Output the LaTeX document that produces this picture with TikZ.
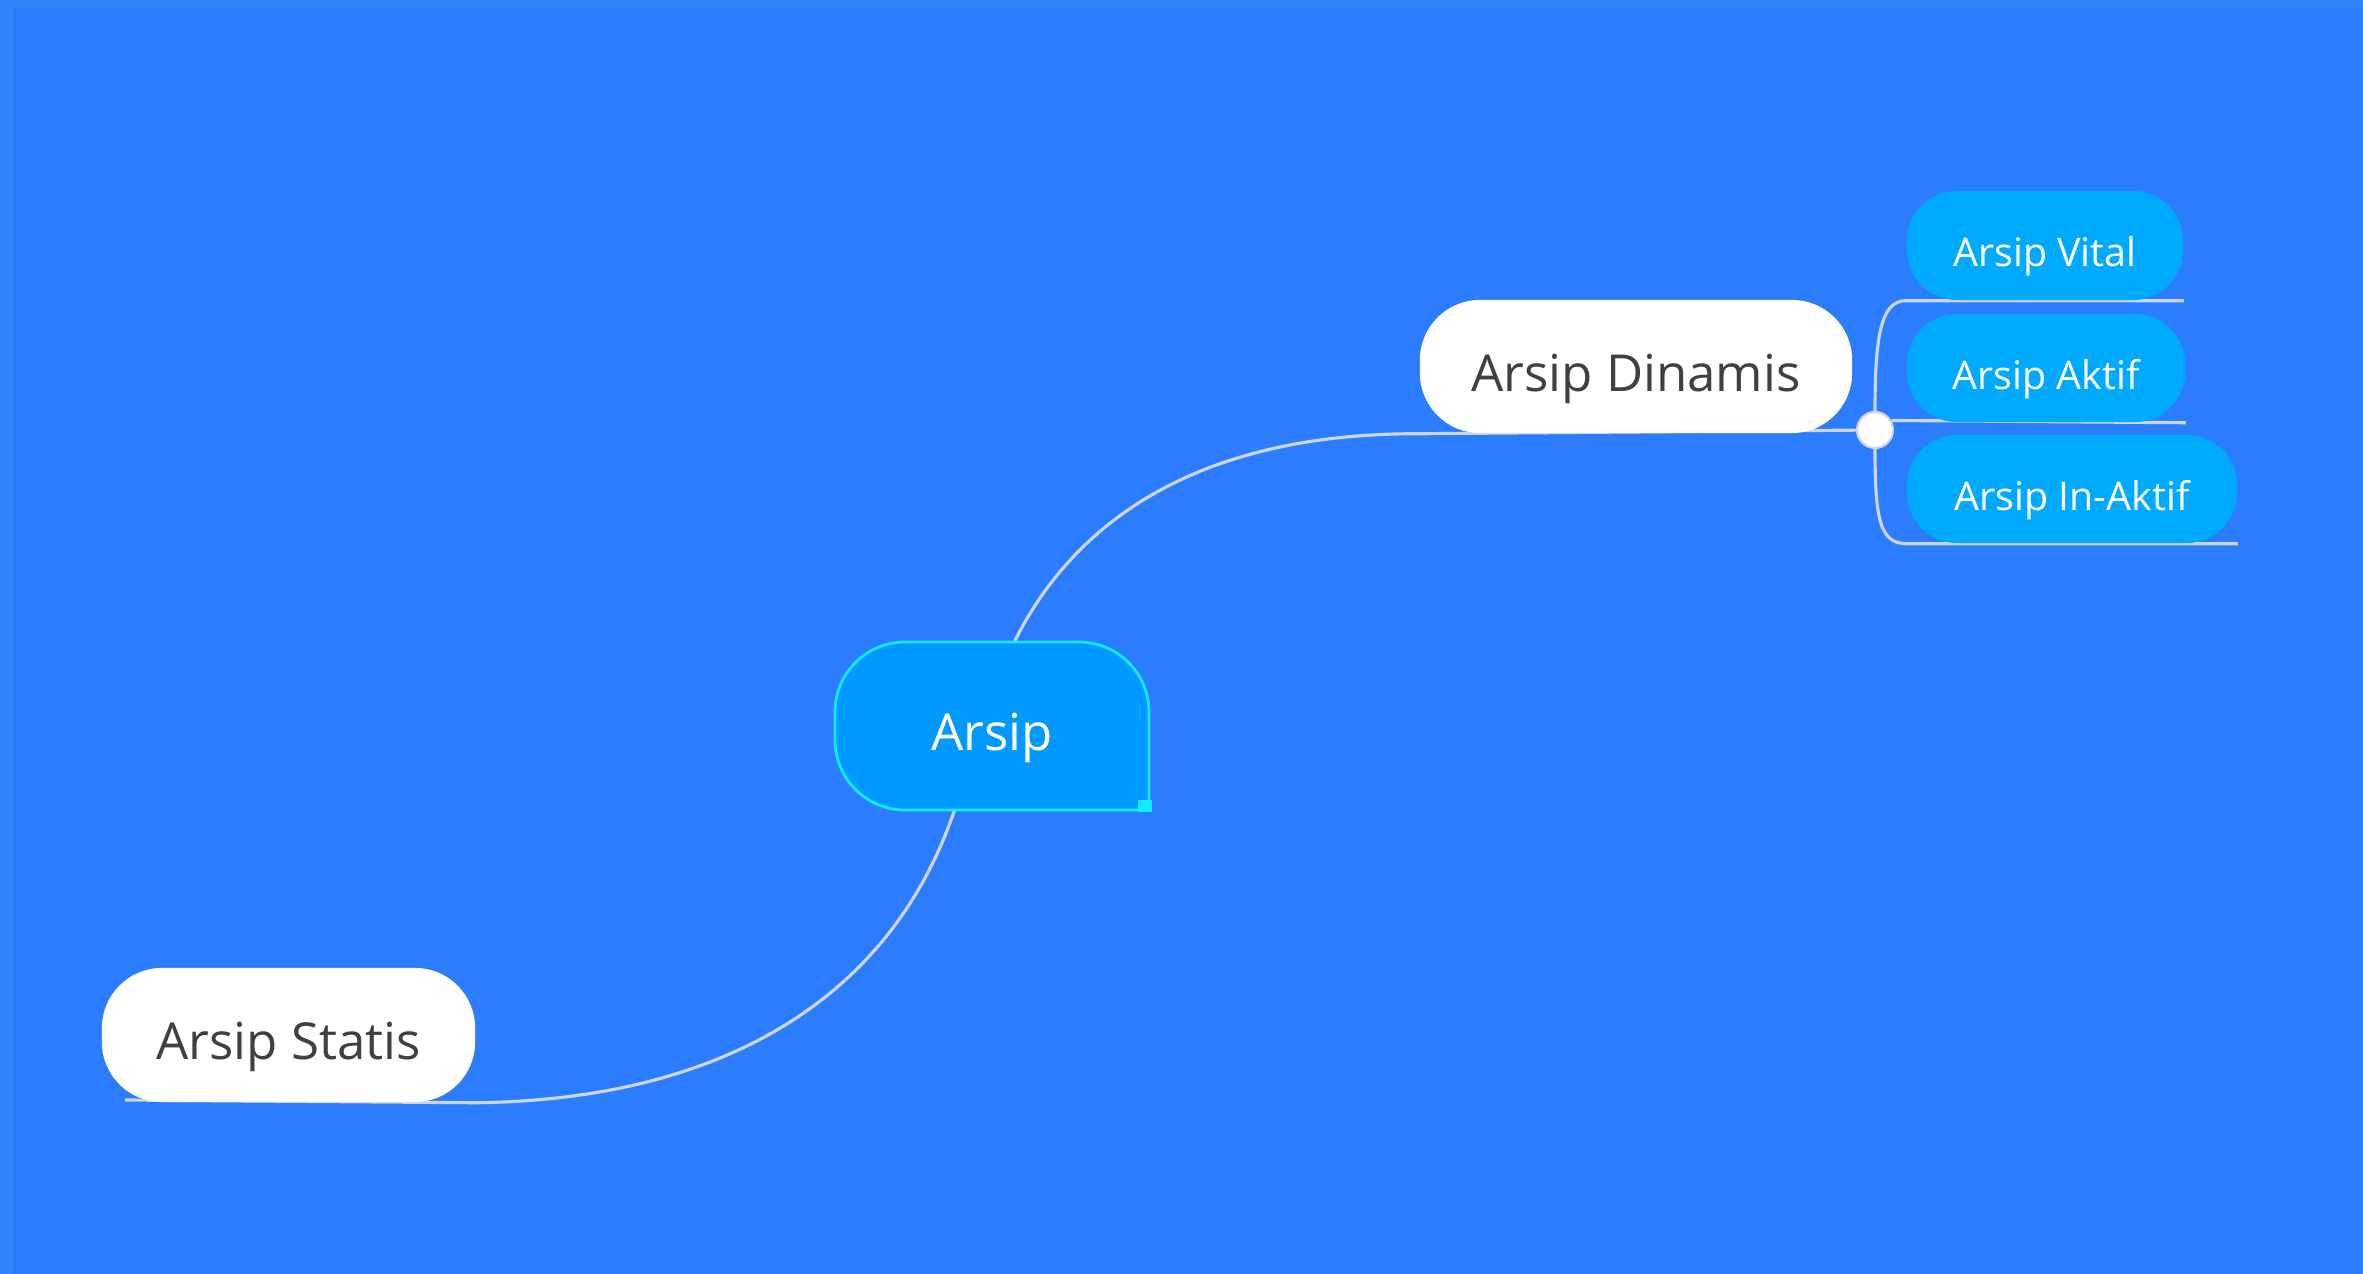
\documentclass[tikz,border=0pt]{standalone}
\usepackage{fontspec}
\setmainfont{Open Sans}
\usetikzlibrary{backgrounds}
\pgfdeclarelayer{lines}
\pgfsetlayers{background,lines,main}
\definecolor{canvas}{RGB}{44,125,253}
\definecolor{frameblue}{RGB}{53,131,253}
\definecolor{rootfill}{RGB}{0,153,255}
\definecolor{rootedge}{RGB}{16,235,255}
\definecolor{leaffill}{RGB}{0,170,255}
\definecolor{linkgray}{RGB}{205,212,226}
\definecolor{textgray}{RGB}{64,64,64}
\begin{document}
\begin{tikzpicture}[x=0.01cm,y=-0.01cm,
    topic/.style={rectangle,rounded corners=0.6cm,fill=white,text=textgray,
      inner sep=0pt,text depth=0pt,text height=14pt,font=\fontsize{14.5}{16}\selectfont},
    leaf/.style={rectangle,rounded corners=0.5cm,fill=leaffill,text=white,
      inner sep=0pt,text depth=0pt,text height=12pt,minimum height=1.08cm,
      font=\fontsize{11.2}{13}\selectfont},
    link/.style={draw=linkgray,line width=0.9pt}]
  \begin{scope}[on background layer]
    \fill[frameblue] (0,0) rectangle (2363,1274);
    \fill[canvas] (13,8) rectangle (2363,1274);
  \end{scope}
  \filldraw[fill=rootfill,draw=rootedge,line width=0.8pt]
    (1149,810) -- (1149,712) arc[start angle=0,end angle=-90,radius=70]
    -- (905,642) arc[start angle=-90,end angle=-180,radius=70]
    -- (835,740) arc[start angle=180,end angle=90,radius=70] -- cycle;
  \fill[rootedge] (1138,800) rectangle (1152,812);
  \node[inner sep=0pt,text depth=0pt,text height=14pt,minimum width=3.15cm,minimum height=1.68cm,
    text=white,font=\fontsize{14.5}{16}\selectfont] (arsip) at (992,726) {Arsip};
  \node[topic,minimum width=4.32cm,minimum height=1.33cm] (dinamis) at (1636,366.5) {Arsip Dinamis};
  \node[topic,minimum width=3.73cm,minimum height=1.34cm] (statis) at (288.5,1035) {Arsip Statis};
  \node[leaf,minimum width=2.76cm,minimum height=1.09cm] (vital) at (2045,245.5) {Arsip Vital};
  \node[leaf,minimum width=2.78cm] (aktif) at (2046,368) {Arsip Aktif};
  \node[leaf,minimum width=3.30cm] (inaktif) at (2072,489) {Arsip In-Aktif};
  \node[circle,fill=white,draw=linkgray,line width=0.6pt,inner sep=0pt,
    minimum size=0.36cm] (hub) at (1875,430) {};
  \coordinate (statisend) at (125,1100);
  \begin{pgfonlayer}{lines}
    \draw[link] (arsip.75) .. controls (1075,520) and (1200,433) .. (dinamis.south west) -- (hub);
    \draw[link] (arsip.246) .. controls (890,1000) and (720,1100) .. (statis.south east) -- (statisend);
    \draw[link] (hub) .. controls (1875,340) and (1880,300) .. (vital.south west) -- (vital.south east);
    \draw[link] (hub.30) -- (aktif.south east);
    \draw[link] (hub) .. controls (1875,520) and (1880,543) .. (inaktif.south west) -- (inaktif.south east);
  \end{pgfonlayer}
\end{tikzpicture}
\end{document}
